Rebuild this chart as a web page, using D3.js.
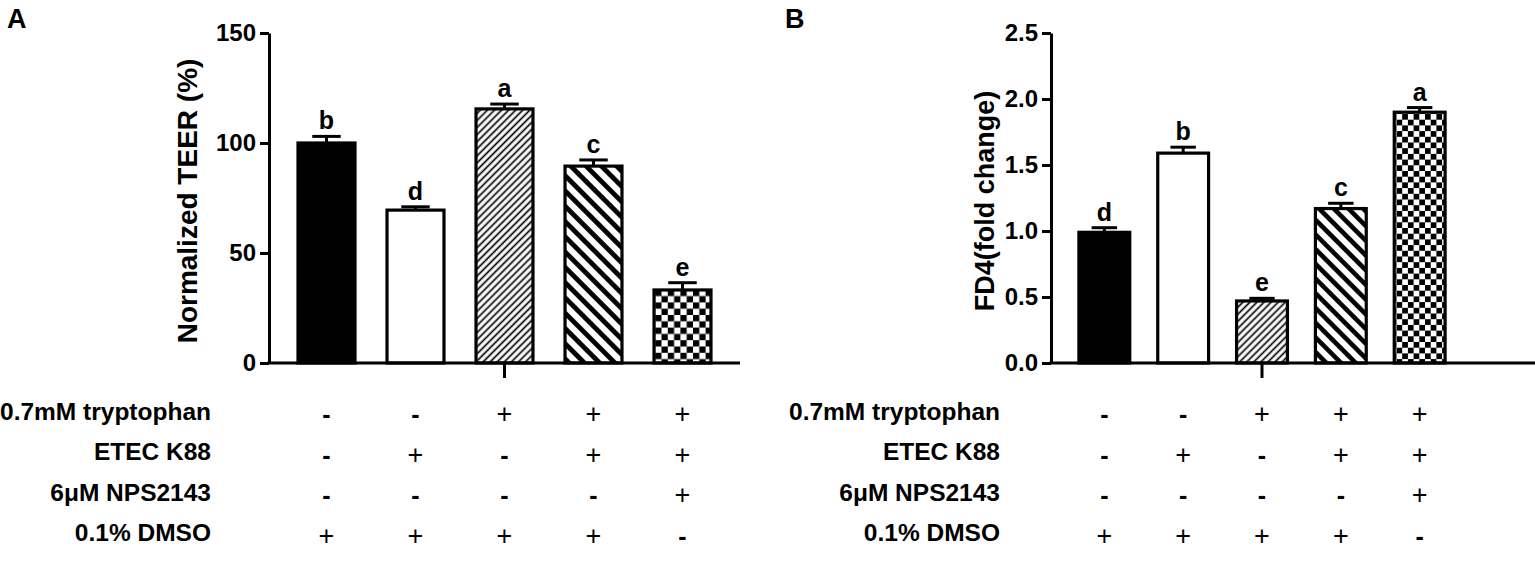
<!DOCTYPE html>
<html><head><meta charset="utf-8">
<script src="https://cdn.jsdelivr.net/npm/d3@7"></script>
<style>
body{margin:0;background:#fff}
svg{display:block}
text{font-family:"Liberation Sans",Arial,Helvetica,sans-serif;font-weight:bold;fill:#000}
text.plus{font-weight:normal}
</style>
</head><body>
<svg id="chart" width="1535" height="571"></svg>
<script>
// ---------- data ----------
const groups = ["G1", "G2", "G3", "G4", "G5"];
const fillKinds = ["solid", "empty", "thin", "thick", "checker"];

const teerValues = [100, 69.5, 115.5, 89.5, 33.2];
const teerErrors = [3, 1.5, 2.2, 2.8, 3.3];
const teerLetters = ["b", "d", "a", "c", "e"];
const teerTicks = [0, 50, 100, 150];

const fd4Values = [0.99, 1.59, 0.47, 1.17, 1.90];
const fd4Errors = [0.035, 0.045, 0.02, 0.04, 0.035];
const fd4Letters = ["d", "b", "e", "c", "a"];
const fd4Ticks = [0, 0.5, 1.0, 1.5, 2.0, 2.5];

const treatmentLabels = ["0.7mM tryptophan", "ETEC K88", "6μM NPS2143", "0.1% DMSO"];
const tryptophanSigns = ["-", "-", "+", "+", "+"];
const etecSigns = ["-", "+", "-", "+", "+"];
const npsSigns = ["-", "-", "-", "-", "+"];
const dmsoSigns = ["+", "+", "+", "+", "-"];
const treatmentSigns = [tryptophanSigns, etecSigns, npsSigns, dmsoSigns];

// ---------- drawing ----------
const svg = d3.select("#chart");
const defs = svg.append("defs");

function makePatterns(prefix, thinSp, thickSp, thickW, sq) {
  const p1 = defs.append("pattern").attr("id", prefix + "thin")
    .attr("patternUnits", "userSpaceOnUse").attr("width", thinSp).attr("height", thinSp)
    .attr("patternTransform", "rotate(45)");
  p1.append("rect").attr("width", thinSp).attr("height", thinSp).attr("fill", "#fff");
  p1.append("line").attr("x1", thinSp / 2).attr("x2", thinSp / 2).attr("y1", 0).attr("y2", thinSp)
    .attr("stroke", "#000").attr("stroke-width", 1.7);

  const p2 = defs.append("pattern").attr("id", prefix + "thick")
    .attr("patternUnits", "userSpaceOnUse").attr("width", thickSp).attr("height", thickSp)
    .attr("patternTransform", "rotate(-45)");
  p2.append("rect").attr("width", thickSp).attr("height", thickSp).attr("fill", "#fff");
  p2.append("line").attr("x1", thickSp / 2).attr("x2", thickSp / 2).attr("y1", 0).attr("y2", thickSp)
    .attr("stroke", "#000").attr("stroke-width", thickW);

  const p3 = defs.append("pattern").attr("id", prefix + "checker")
    .attr("patternUnits", "userSpaceOnUse").attr("width", 2 * sq).attr("height", 2 * sq);
  p3.append("rect").attr("width", 2 * sq).attr("height", 2 * sq).attr("fill", "#fff");
  p3.append("rect").attr("width", sq).attr("height", sq).attr("fill", "#000");
  p3.append("rect").attr("x", sq).attr("y", sq).attr("width", sq).attr("height", sq).attr("fill", "#000");
}
makePatterns("A", 5, 10.8, 4.8, 6.3);
makePatterns("B", 5, 10.4, 4.6, 5.7);

function fillFor(prefix, kind) {
  if (kind === "solid") return "#000";
  if (kind === "empty") return "#fff";
  return "url(#" + prefix + kind + ")";
}

const panels = [
  {
    id: "A", values: teerValues, errors: teerErrors, letters: teerLetters,
    ticks: teerTicks, fmt: d3.format("d"), max: 150,
    title: "Normalized TEER (%)", titleX: 187, titleSize: 28,
    axisX: 269, axisEnd: 740, bandEnd: 740, padIn: 0.36, padOut: 0.326,
    labelX: 7, tableRight: 211
  },
  {
    id: "B", values: fd4Values, errors: fd4Errors, letters: fd4Letters,
    ticks: fd4Ticks, fmt: d3.format(".1f"), max: 2.5,
    title: "FD4(fold change)", titleX: 985, titleSize: 27,
    axisX: 1051, axisEnd: 1535, bandEnd: 1473, padIn: 0.355, padOut: 0.354,
    labelX: 785, tableRight: 1000
  }
];

const yTop = 33, yBot = 363;
const rowTop = 411, rowStep = 40.5;

panels.forEach(p => {
  const g = svg.append("g");
  const x = d3.scaleBand().domain(groups).range([p.axisX, p.bandEnd])
    .paddingInner(p.padIn).paddingOuter(p.padOut);
  const y = d3.scaleLinear().domain([0, p.max]).range([yBot, yTop]);
  const data = groups.map((k, i) => ({ k, v: p.values[i], e: p.errors[i], l: p.letters[i], f: fillKinds[i] }));
  const bw = x.bandwidth();

  // error bars
  g.selectAll(".err").data(data).enter().append("line")
    .attr("x1", d => x(d.k) + bw / 2).attr("x2", d => x(d.k) + bw / 2)
    .attr("y1", d => y(d.v)).attr("y2", d => y(d.v + d.e))
    .attr("stroke", "#000").attr("stroke-width", 3);
  g.selectAll(".cap").data(data).enter().append("line")
    .attr("x1", d => x(d.k) + bw * 0.25).attr("x2", d => x(d.k) + bw * 0.75)
    .attr("y1", d => y(d.v + d.e)).attr("y2", d => y(d.v + d.e))
    .attr("stroke", "#000").attr("stroke-width", 3);

  // bars
  g.selectAll(".bar").data(data).enter().append("rect")
    .attr("x", d => x(d.k)).attr("width", bw)
    .attr("y", d => y(d.v)).attr("height", d => yBot - y(d.v))
    .attr("fill", d => fillFor(p.id, d.f))
    .attr("stroke", "#000").attr("stroke-width", 3.2);

  // letters
  g.selectAll(".let").data(data).enter().append("text")
    .attr("x", d => x(d.k) + bw / 2).attr("y", d => y(d.v + d.e) - 7)
    .attr("text-anchor", "middle").attr("font-size", 25).text(d => d.l);

  // y axis
  const ya = g.append("g").attr("transform", `translate(${p.axisX},0)`)
    .call(d3.axisLeft(y).tickValues(p.ticks).tickFormat(p.fmt).tickSize(9).tickSizeOuter(0).tickPadding(4));
  ya.attr("font-family", null).attr("font-size", null);
  ya.select(".domain").attr("stroke", "#000").attr("stroke-width", 3);
  ya.selectAll(".tick line").attr("stroke", "#000").attr("stroke-width", 3);
  ya.selectAll(".tick text").attr("font-size", 24).attr("fill", "#000");

  // x axis
  g.append("line").attr("x1", p.axisX - 1.5).attr("x2", p.axisEnd).attr("y1", yBot).attr("y2", yBot)
    .attr("stroke", "#000").attr("stroke-width", 3);
  const mid = groups[2];
  g.append("line").attr("x1", x(mid) + bw / 2).attr("x2", x(mid) + bw / 2)
    .attr("y1", yBot).attr("y2", yBot + 15).attr("stroke", "#000").attr("stroke-width", 3);

  // y title
  g.append("text").attr("transform", `translate(${p.titleX},${(yTop + yBot) / 2 + 3}) rotate(-90)`)
    .attr("text-anchor", "middle").attr("dominant-baseline", "central")
    .attr("font-size", p.titleSize).text(p.title);

  // panel label
  g.append("text").attr("x", p.labelX).attr("y", 28).attr("font-size", 27).text(p.id);

  // treatment table
  treatmentLabels.forEach((lab, r) => {
    const yy = rowTop + r * rowStep;
    g.append("text").attr("x", p.tableRight).attr("y", yy).attr("text-anchor", "end")
      .attr("dominant-baseline", "central").attr("font-size", 24.5).text(lab);
    g.selectAll(null).data(treatmentSigns[r]).enter().append("text")
      .attr("class", s => s === "+" ? "plus" : "minus")
      .attr("x", (s, i) => x(groups[i]) + bw / 2).attr("y", yy + 3)
      .attr("text-anchor", "middle").attr("dominant-baseline", "central")
      .attr("font-size", s => s === "+" ? 27 : 25).text(s => s);
  });
});
</script>
</body></html>
